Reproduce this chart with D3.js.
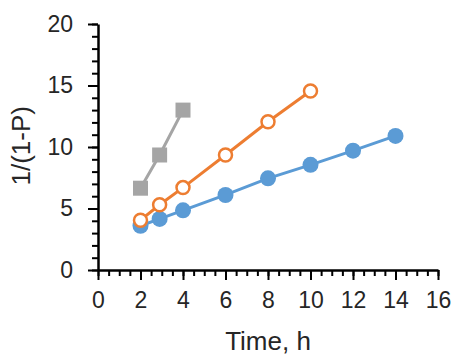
<!DOCTYPE html>
<html>
<head>
<meta charset="utf-8">
<script src="https://cdn.jsdelivr.net/npm/d3@7"></script>
<style>
  body { margin: 0; background: #fff; }
  text { font-family: "Liberation Sans", Arial, sans-serif; fill: #262626; }
</style>
</head>
<body>
<div id="chart"></div>
<script>
// series data (time in hours, value 1/(1-P))
const blueTime = [2, 2.9, 4, 6, 8, 10, 12, 14];
const blueVals = [3.6, 4.15, 4.85, 6.1, 7.45, 8.55, 9.7, 10.9];
const orangeTime = [2, 2.9, 4, 6, 8, 10];
const orangeVals = [4.05, 5.3, 6.7, 9.35, 12.05, 14.55];
const grayTime = [2, 2.9, 4];
const grayVals = [6.65, 9.35, 13.0];

const xTicks = [0, 2, 4, 6, 8, 10, 12, 14, 16];
const yTicks = [0, 5, 10, 15, 20];

const w = 456, h = 355;
const margin = { top: 24, right: 18, bottom: 85, left: 98 };
const width = w - margin.left - margin.right;
const height = h - margin.top - margin.bottom;

const svg = d3.select("#chart")
    .append("svg")
    .attr("width", w)
    .attr("height", h)
    .append("g")
    .attr("transform", `translate(${margin.left}, ${margin.top})`);

const xScale = d3.scaleLinear().domain([0, 16]).range([0, width]);
const yScale = d3.scaleLinear().domain([0, 20]).range([height, 0]);

// minor ticks
const xMinor = d3.range(0, 16.01, 0.5);
const yMinor = d3.range(0, 20.01, 1);

svg.append("g")
    .attr("transform", `translate(0, ${height})`)
    .call(d3.axisBottom(xScale).tickValues(xMinor).tickSize(6).tickFormat(""))
    .call(g => g.select(".domain").remove())
    .selectAll("line").attr("stroke", "#000").attr("stroke-width", 2);

svg.append("g")
    .call(d3.axisLeft(yScale).tickValues(yMinor).tickSize(6).tickFormat(""))
    .call(g => g.select(".domain").remove())
    .selectAll("line").attr("stroke", "#000").attr("stroke-width", 2);

// major ticks with labels
const xAxis = svg.append("g")
    .attr("transform", `translate(0, ${height})`)
    .call(d3.axisBottom(xScale).tickValues(xTicks).tickSize(10).tickPadding(12).tickSizeOuter(0));
xAxis.selectAll("line").attr("stroke", "#000").attr("stroke-width", 2);
xAxis.select(".domain").attr("stroke", "#000").attr("stroke-width", 2.5);
xAxis.selectAll("text").style("font-size", "23px").attr("fill", "#262626");

const yAxis = svg.append("g")
    .call(d3.axisLeft(yScale).tickValues(yTicks).tickSize(10).tickPadding(15).tickSizeOuter(0));
yAxis.selectAll("line").attr("stroke", "#000").attr("stroke-width", 2);
yAxis.select(".domain").attr("stroke", "#000").attr("stroke-width", 2.5);
yAxis.selectAll("text").style("font-size", "23px").attr("fill", "#262626");

// axis titles
svg.append("text")
    .attr("x", xScale(8))
    .attr("y", height + 80)
    .attr("text-anchor", "middle")
    .style("font-size", "26px")
    .text("Time, h");

svg.append("text")
    .attr("transform", "rotate(-90)")
    .attr("x", -yScale(10.1))
    .attr("y", -68)
    .attr("text-anchor", "middle")
    .style("font-size", "26px")
    .text("1/(1-P)");

const lineGenerator = d3.line()
    .x(d => xScale(d[0]))
    .y(d => yScale(d[1]));

const zip = (a, b) => a.map((v, i) => [v, b[i]]);

// blue series
const blue = zip(blueTime, blueVals);
svg.append("path")
    .datum(blue)
    .attr("fill", "none")
    .attr("stroke", "#5B9BD5")
    .attr("stroke-width", 3)
    .attr("d", lineGenerator);
svg.selectAll(".blue")
    .data(blue)
    .enter()
    .append("circle")
    .attr("cx", d => xScale(d[0]))
    .attr("cy", d => yScale(d[1]))
    .attr("r", 8)
    .attr("fill", "#5B9BD5");

// orange series
const orange = zip(orangeTime, orangeVals);
svg.append("path")
    .datum(orange)
    .attr("fill", "none")
    .attr("stroke", "#ED7D31")
    .attr("stroke-width", 3)
    .attr("d", lineGenerator);
svg.selectAll(".orange")
    .data(orange)
    .enter()
    .append("circle")
    .attr("cx", d => xScale(d[0]))
    .attr("cy", d => yScale(d[1]))
    .attr("r", 6.5)
    .attr("fill", "#fff")
    .attr("stroke", "#ED7D31")
    .attr("stroke-width", 2.5);

// gray series
const gray = zip(grayTime, grayVals);
svg.append("path")
    .datum(gray)
    .attr("fill", "none")
    .attr("stroke", "#A5A5A5")
    .attr("stroke-width", 3)
    .attr("d", lineGenerator);
svg.selectAll(".gray")
    .data(gray)
    .enter()
    .append("rect")
    .attr("x", d => xScale(d[0]) - 7.5)
    .attr("y", d => yScale(d[1]) - 7.5)
    .attr("width", 15)
    .attr("height", 15)
    .attr("fill", "#A5A5A5");
</script>
</body>
</html>
